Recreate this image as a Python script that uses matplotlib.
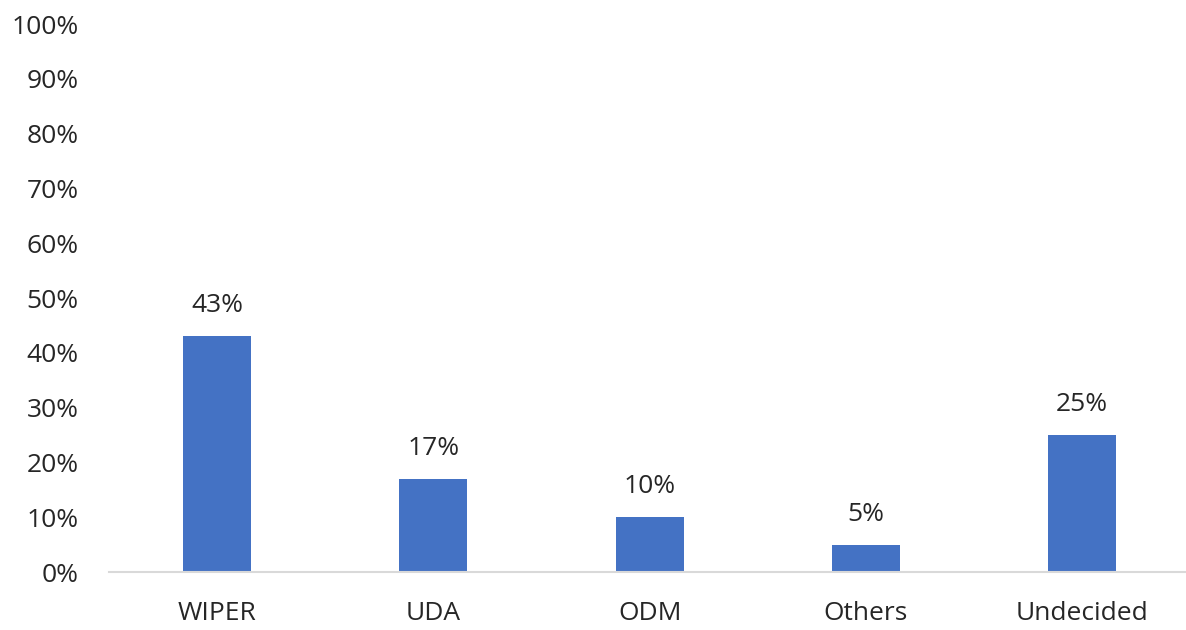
import matplotlib
matplotlib.use('Agg')
import matplotlib.pyplot as plt
from matplotlib.ticker import FuncFormatter

# Chart data
parties = ['WIPER', 'UDA', 'ODM', 'Others', 'Undecided']
shares = [43, 17, 10, 5, 25]

plt.rcParams['font.family'] = ['Open Sans', 'DejaVu Sans']

fig = plt.figure(figsize=(11.86, 6.30), dpi=100)
ax = fig.add_axes([109 / 1186, 1 - 572 / 630, 1 - 109 / 1186, (572 - 24) / 630])

bars = ax.bar(range(len(parties)), shares, width=0.315, color='#4472C4')

# Value labels above bars
for b, v in zip(bars, shares):
    ax.annotate(f'{v}%', (b.get_x() + b.get_width() / 2, b.get_height()),
                xytext=(0, 13), textcoords='offset points',
                ha='center', va='bottom', fontsize=19, color='#262626')

ax.set_xlim(-0.5, 4.48)
ax.set_ylim(0, 100)
ax.set_yticks(range(0, 101, 10))
ax.yaxis.set_major_formatter(FuncFormatter(lambda y, _: f'{int(y)}%'))
ax.set_xticks(range(len(parties)))
ax.set_xticklabels(parties)

ax.tick_params(axis='y', length=0, pad=22, labelsize=19, labelcolor='#262626')
ax.tick_params(axis='x', length=0, pad=21, labelsize=19, labelcolor='#262626')

for side in ['top', 'right', 'left']:
    ax.spines[side].set_visible(False)
ax.spines['bottom'].set_color('#D9D9D9')
ax.spines['bottom'].set_linewidth(1.5)

fig.savefig('out.png', dpi=100)
